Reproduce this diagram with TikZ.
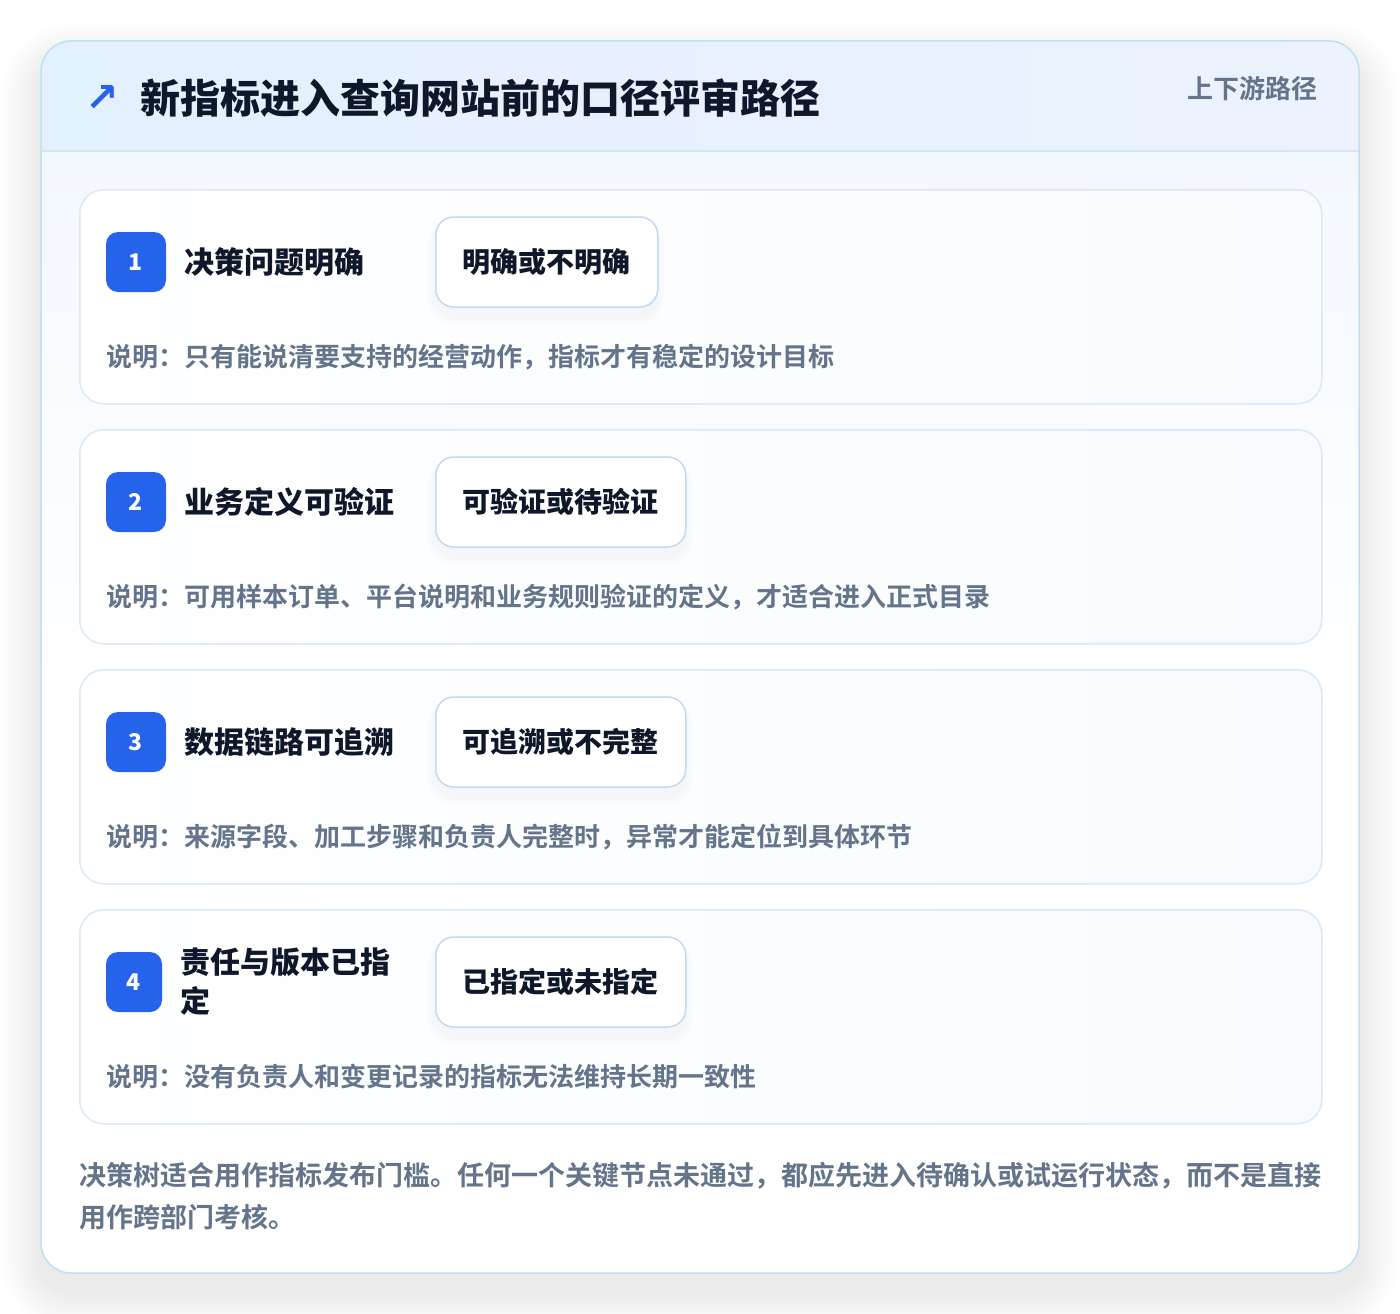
\documentclass[tikz,border=0pt]{standalone}
\usepackage{fontspec}
\setmainfont{Noto Sans CJK SC}[BoldFont={Noto Sans CJK SC Bold}]
\newfontfamily\heavy{Noto Sans CJK SC Black}
\newfontfamily\symfont{DejaVu Sans}
\usetikzlibrary{positioning}

\definecolor{badgeblue}{HTML}{2563EB}
\definecolor{inkdark}{HTML}{0F172A}
\definecolor{inkgray}{HTML}{64748B}
\definecolor{panelline}{HTML}{BCE0F4}
\definecolor{headleft}{HTML}{E3F0FD}
\definecolor{headright}{HTML}{ECF2FE}
\definecolor{headrule}{HTML}{D3E6F8}
\definecolor{bodytop}{HTML}{F3F8FE}
\definecolor{cardline}{HTML}{DAE8F7}
\definecolor{cardright}{HTML}{F7FAFE}
\definecolor{optline}{HTML}{C2D9F6}

\tikzset{
  card/.style={draw=cardline, line width=1.5pt, rounded corners=24pt,
    left color=white, right color=cardright,
    minimum width=1242pt, minimum height=214pt, anchor=north west},
  badge/.style={fill=badgeblue, rounded corners=12pt, text=white,
    minimum height=60pt, inner sep=0pt,
    font=\heavy\fontsize{23}{26}\selectfont},
  steptitle/.style={text=inkdark, align=left, inner sep=0pt, anchor=west,
    font=\heavy\fontsize{30}{39}\selectfont},
  optbox/.style={draw=optline, fill=white, line width=1.5pt, rounded corners=18pt,
    minimum height=90pt, inner xsep=27pt, anchor=west, text=inkdark,
    font=\heavy\fontsize{28}{34}\selectfont},
  desc/.style={text=inkgray, inner sep=0pt, anchor=west,
    font=\fontsize{26}{32}\selectfont\bfseries},
}

\begin{document}
\begin{tikzpicture}[x=1pt,y=-1pt]
  \useasboundingbox (0,0) rectangle (1400,1314);
  \fill[white] (0,0) rectangle (1400,1314);

  % soft shadow under the panel
  \foreach \k in {2,4,...,40}
    \fill[black, opacity=0.005, rounded corners=30+\k]
      (41-\k,41-\k+22) rectangle (1359+\k,1273+\k+18);

  % outer panel with header band
  \fill[white, rounded corners=30pt] (41,41) rectangle (1359,1273);
  \begin{scope}
    \clip[rounded corners=30pt] (41,41) rectangle (1359,1273);
    \shade[top color=bodytop, bottom color=white] (41,151) rectangle (1359,700);
    \shade[left color=headleft, right color=headright] (41,41) rectangle (1359,151);
    \draw[headrule, line width=1.5pt] (41,151) -- (1359,151);
  \end{scope}
  \draw[panelline, line width=1.5pt, rounded corners=30pt] (41,41) rectangle (1359,1273);

  \node[text=badgeblue, inner sep=0pt, font=\symfont\fontsize{40}{40}\selectfont\bfseries]
    (icon) at (102,99) {↗};
  \node[text=inkdark, inner sep=0pt, anchor=west, font=\heavy\fontsize{40}{48}\selectfont]
    (title) at (140,98) {新指标进入查询网站前的口径评审路径};
  \node[text=inkgray, inner sep=0pt, anchor=east, font=\fontsize{26}{32}\selectfont\bfseries]
    (tag) at (1318,89) {上下游路径};

  % the four review steps
  \foreach \num/\ttl/\opt/\txt/\bw/\ow [count=\i from 0] in {
    1/决策问题明确/明确或不明确/说明：只有能说清要支持的经营动作，指标才有稳定的设计目标/60/222,
    2/业务定义可验证/可验证或待验证/说明：可用样本订单、平台说明和业务规则验证的定义，才适合进入正式目录/60/250,
    3/数据链路可追溯/可追溯或不完整/说明：来源字段、加工步骤和负责人完整时，异常才能定位到具体环节/60/250,
    4/{责任与版本已指\\定}/已指定或未指定/说明：没有负责人和变更记录的指标无法维持长期一致性/56/250} {
    \pgfmathsetmacro\top{189+240*\i}
    \node[card] (card\num) at (79,\top) {};
    \node[badge, minimum width=\bw pt] (badge\num) at (106+\bw/2,\top+73) {\num};
    \node[steptitle, right=18pt of badge\num] (name\num) {\ttl};
    \foreach \k in {1,...,8}
      \fill[black, opacity=0.005, rounded corners=18+\k]
        (435-\k,\top+28-\k+10) rectangle (435+\ow+\k,\top+118+\k+10);
    \node[optbox, minimum width=\ow pt] (opt\num) at (435,\top+73) {\opt};
    \node[desc] (desc\num) at (106,\top+168) {\txt};
  }

  \node[text=inkgray, inner sep=0pt, anchor=west, align=left,
    font=\fontsize{27}{42}\selectfont\bfseries] (note) at (79,1196)
    {决策树适合用作指标发布门槛。任何一个关键节点未通过，都应先进入待确认或试运行状态，而不是直接\\用作跨部门考核。};
\end{tikzpicture}
\end{document}
